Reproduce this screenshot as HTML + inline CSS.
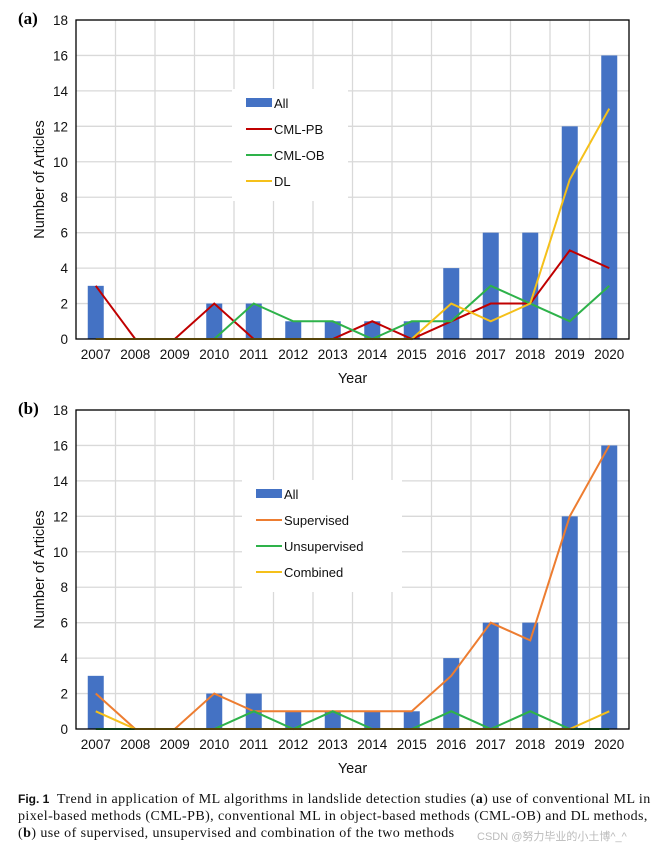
<!DOCTYPE html>
<html><head><meta charset="utf-8"><style>
body{margin:0;background:#fff;width:655px;height:850px;overflow:hidden;font-family:"Liberation Sans",sans-serif}
svg{position:absolute;left:0;top:0}
.cap{position:absolute;left:18px;top:791px;width:660px;white-space:nowrap;font-family:"Liberation Serif",serif;font-size:14px;line-height:17px;color:#111;letter-spacing:0.42px}
.wm{position:absolute;left:477px;top:828px;font-size:11px;color:#bbb;font-family:"Liberation Sans","Noto Sans CJK SC",sans-serif;background:#fff}
</style></head><body>
<svg id="chart" width="655" height="850"></svg>
<div class="cap"><span style="font-family:'Liberation Sans',sans-serif;font-weight:bold;font-size:12px;letter-spacing:0">Fig. 1</span>&nbsp; Trend in application of ML algorithms in landslide detection studies (<b>a</b>) use of conventional ML in<br>pixel-based methods (CML-PB), conventional ML in object-based methods (CML-OB) and DL methods,<br>(<b>b</b>) use of supervised, unsupervised and combination of the two methods</div>
<div class="wm">CSDN @努力毕业的小土博^_^</div>
<script>
const years = ["2007","2008","2009","2010","2011","2012","2013","2014","2015","2016","2017","2018","2019","2020"];
const yTicks = [0,2,4,6,8,10,12,14,16,18];
const allA = [3,0,0,2,2,1,1,1,1,4,6,6,12,16];
const cmlPB = [3,0,0,2,0,0,0,1,0,1,2,2,5,4];
const cmlOB = [0,0,0,0,2,1,1,0,1,1,3,2,1,3];
const dl = [0,0,0,0,0,0,0,0,0,2,1,2,9,13];
const allB = [3,0,0,2,2,1,1,1,1,4,6,6,12,16];
const supervised = [2,0,0,2,1,1,1,1,1,3,6,5,12,16];
const unsupervised = [0,0,0,0,1,0,1,0,0,1,0,1,0,0];
const combined = [1,0,0,0,0,0,0,0,0,0,0,0,0,1];

const NS="http://www.w3.org/2000/svg";
const svg=document.getElementById('chart');
function mk(tag,attrs,parent){const e=document.createElementNS(NS,tag);for(const k in attrs)e.setAttribute(k,attrs[k]);(parent||svg).appendChild(e);return e;}

function panel(cfg){
  const g=mk('g',{});
  
  
  const L=76,R=629,T=cfg.top,B=cfg.bottom,max=18;
  const step=(R-L)/years.length;
  const x=i=>L+step*(i+0.5);
  const y=v=>B-(B-T)*v/max;
  yTicks.forEach(t=>{const l=mk('line',{x1:L,x2:R,y1:y(t),y2:y(t),stroke:'#d9d9d9','stroke-width':1.3},g);
    });
  for(let i=1;i<years.length;i++){const l=mk('line',{x1:L+step*i,x2:L+step*i,y1:T,y2:B,stroke:'#d9d9d9','stroke-width':1.3},g);
    }
  cfg.bars.forEach((v,i)=>{const r=mk('rect',{x:x(i)-8,y:y(v),width:16,height:y(0)-y(v),fill:'#4472c4'},g);
    });
  cfg.series.forEach(s=>{const p=mk('polyline',{points:s.data.map((v,i)=>x(i)+','+y(v)).join(' '),fill:'none',stroke:s.color,'stroke-width':2},g);
    });
  const fr=mk('rect',{x:L,y:T,width:R-L,height:B-T,fill:'none',stroke:'#000','stroke-width':1.3},g);
  
  yTicks.forEach(t=>{const tx=mk('text',{x:L-8,y:y(t)+5,'text-anchor':'end','font-size':13.5,fill:'#111'},g);tx.textContent=t;
    });
  years.forEach((yr,i)=>{const tx=mk('text',{x:x(i),y:B+20,'text-anchor':'middle','font-size':13.5,fill:'#111'},g);tx.textContent=yr;
    });
  const xt=mk('text',{x:(L+R)/2,y:B+44,'text-anchor':'middle','font-size':14.5,fill:'#111'},g);xt.textContent='Year';
  
  const yt=mk('text',{x:0,y:0,'text-anchor':'middle','font-size':14.5,fill:'#111',transform:`translate(44,${(T+B)/2}) rotate(-90)`},g);yt.textContent='Number of Articles';
  
  const pl=mk('text',{x:18,y:T+4,'font-size':17,'font-weight':'bold','font-family':'Liberation Serif,serif',fill:'#000'},g);pl.textContent=cfg.label;
  
  const lg=mk('g',{},g);
  mk('rect',{x:cfg.lx-14,y:cfg.ly-14,width:cfg.lw,height:112,fill:'#fff'},lg);
  const items=[{key:'All',color:'#4472c4',bar:true}].concat(cfg.series);
  items.forEach((s,k)=>{const yy=cfg.ly+k*26;
    if(s.bar)mk('rect',{x:cfg.lx,y:yy-5,width:26,height:9,fill:'#4472c4'},lg);
    else mk('line',{x1:cfg.lx,x2:cfg.lx+26,y1:yy,y2:yy,stroke:s.color,'stroke-width':2},lg);
    const t=mk('text',{x:cfg.lx+28,y:yy+5,'font-size':13,fill:'#111'},lg);t.textContent=s.label||s.key;
    });
}
panel({name:'chart-a',label:'(a)',top:20,bottom:339,bars:allA,lx:246,ly:103,lw:116,
  series:[{key:'cml-pb',label:'CML-PB',color:'#c00000',data:cmlPB},{key:'cml-ob',label:'CML-OB',color:'#2eb24a',data:cmlOB},{key:'dl',label:'DL',color:'#f5c01a',data:dl}]});
panel({name:'chart-b',label:'(b)',top:410,bottom:729,bars:allB,lx:256,ly:494,lw:160,
  series:[{key:'supervised',label:'Supervised',color:'#ed7d31',data:supervised},{key:'unsupervised',label:'Unsupervised',color:'#2eb24a',data:unsupervised},{key:'combined',label:'Combined',color:'#f5c01a',data:combined}]});
</script>
</body></html>
